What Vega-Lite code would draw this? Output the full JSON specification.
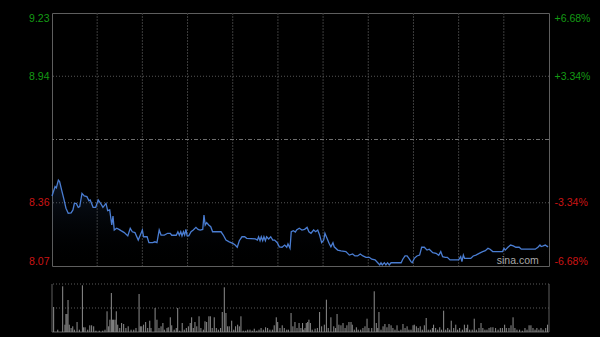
{
  "$schema": "https://vega.github.io/schema/vega-lite/v6.json",
  "background": "#000000",
  "padding": {"left": 0, "top": 12, "right": 0, "bottom": 4},
  "spacing": 14,
  "datasets": {
    "price": [
      {"t":0,"p":8.391},{"t":1.5,"p":8.434},{"t":2.1,"p":8.428},{"t":3.1,"p":8.464},{"t":3.7,"p":8.457},{"t":4.7,"p":8.418},{"t":5.7,"p":8.380},{"t":6.8,"p":8.335},{"t":7.9,"p":8.312},{"t":9.3,"p":8.314},
      {"t":10.2,"p":8.327},{"t":10.9,"p":8.357},{"t":11.8,"p":8.357},{"t":12.8,"p":8.339},{"t":13.5,"p":8.342},{"t":14.6,"p":8.403},{"t":15.7,"p":8.391},{"t":17.0,"p":8.388},{"t":18.0,"p":8.369},{"t":18.6,"p":8.373},
      {"t":20.0,"p":8.339},{"t":21.3,"p":8.339},{"t":22.5,"p":8.373},{"t":23.9,"p":8.354},{"t":24.8,"p":8.339},{"t":26.3,"p":8.357},{"t":27.1,"p":8.324},{"t":28.1,"p":8.327},{"t":29.1,"p":8.258},{"t":29.7,"p":8.299},
      {"t":30.3,"p":8.235},{"t":31.5,"p":8.243},{"t":32.6,"p":8.238},{"t":33.6,"p":8.232},{"t":35.2,"p":8.223},{"t":36.9,"p":8.208},{"t":38.1,"p":8.243},{"t":39.1,"p":8.227},{"t":40.4,"p":8.223},{"t":42.0,"p":8.189},
      {"t":43.0,"p":8.212},{"t":44.0,"p":8.235},{"t":44.6,"p":8.204},{"t":46.3,"p":8.204},{"t":47.2,"p":8.177},{"t":49.0,"p":8.177},{"t":50.1,"p":8.181},{"t":51.1,"p":8.177},{"t":52.2,"p":8.235},{"t":53.1,"p":8.212},
      {"t":54.7,"p":8.212},{"t":56.3,"p":8.220},{"t":57.6,"p":8.220},{"t":58.3,"p":8.211},{"t":60.5,"p":8.211},{"t":61.3,"p":8.227},{"t":62.0,"p":8.211},{"t":62.7,"p":8.227},{"t":63.3,"p":8.208},{"t":64.0,"p":8.227},
      {"t":64.6,"p":8.212},{"t":65.2,"p":8.238},{"t":65.8,"p":8.208},{"t":66.6,"p":8.208},{"t":67.7,"p":8.227},{"t":68.8,"p":8.235},{"t":70.1,"p":8.247},{"t":71.1,"p":8.238},{"t":72.1,"p":8.235},{"t":73.4,"p":8.238},
      {"t":74.0,"p":8.304},{"t":74.6,"p":8.258},{"t":75.3,"p":8.269},{"t":76.3,"p":8.258},{"t":77.3,"p":8.250},{"t":78.2,"p":8.227},{"t":82.3,"p":8.227},{"t":83.4,"p":8.212},{"t":84.7,"p":8.189},{"t":86.3,"p":8.181},
      {"t":88.0,"p":8.174},{"t":89.2,"p":8.166},{"t":90.2,"p":8.156},{"t":91.2,"p":8.186},{"t":92.5,"p":8.204},{"t":93.8,"p":8.204},{"t":94.8,"p":8.197},{"t":99.0,"p":8.194},{"t":100.0,"p":8.189},{"t":100.6,"p":8.204},
      {"t":101.3,"p":8.186},{"t":101.9,"p":8.204},{"t":102.6,"p":8.186},{"t":103.2,"p":8.204},{"t":103.9,"p":8.186},{"t":104.5,"p":8.204},{"t":105.5,"p":8.194},{"t":106.5,"p":8.204},{"t":107.5,"p":8.189},{"t":108.4,"p":8.189},
      {"t":109.7,"p":8.177},{"t":110.7,"p":8.158},{"t":112.0,"p":8.156},{"t":113.3,"p":8.166},{"t":114.3,"p":8.156},{"t":114.9,"p":8.171},{"t":115.9,"p":8.151},{"t":116.5,"p":8.227},{"t":117.5,"p":8.232},{"t":118.5,"p":8.226},
      {"t":119.1,"p":8.235},{"t":120.4,"p":8.243},{"t":121.7,"p":8.235},{"t":123.0,"p":8.238},{"t":124.2,"p":8.247},{"t":125.1,"p":8.227},{"t":126.1,"p":8.220},{"t":127.4,"p":8.235},{"t":128.4,"p":8.227},{"t":129.4,"p":8.235},
      {"t":130.3,"p":8.212},{"t":131.3,"p":8.177},{"t":132.3,"p":8.189},{"t":132.9,"p":8.220},{"t":133.9,"p":8.197},{"t":134.9,"p":8.174},{"t":135.8,"p":8.158},{"t":136.8,"p":8.177},{"t":137.4,"p":8.158},{"t":139.1,"p":8.143},
      {"t":140.7,"p":8.139},{"t":143.1,"p":8.136},{"t":144.8,"p":8.120},{"t":146.4,"p":8.125},{"t":147.5,"p":8.116},{"t":148.8,"p":8.116},{"t":150.1,"p":8.125},{"t":151.4,"p":8.116},{"t":152.9,"p":8.110},{"t":154.5,"p":8.110},
      {"t":155.7,"p":8.101},{"t":157.3,"p":8.098},{"t":158.6,"p":8.085},{"t":159.6,"p":8.075},{"t":160.2,"p":8.085},{"t":160.8,"p":8.075},{"t":161.8,"p":8.085},{"t":162.6,"p":8.075},{"t":163.4,"p":8.085},{"t":164.2,"p":8.075},
      {"t":165.1,"p":8.085},{"t":170.0,"p":8.085},{"t":170.8,"p":8.101},{"t":171.9,"p":8.116},{"t":172.9,"p":8.116},{"t":173.8,"p":8.105},{"t":174.8,"p":8.090},{"t":175.4,"p":8.085},{"t":176.4,"p":8.105},{"t":177.7,"p":8.116},
      {"t":179.0,"p":8.120},{"t":180.0,"p":8.156},{"t":181.3,"p":8.156},{"t":182.6,"p":8.143},{"t":183.7,"p":8.147},{"t":185.4,"p":8.131},{"t":187.0,"p":8.128},{"t":188.3,"p":8.119},{"t":189.3,"p":8.136},{"t":190.2,"p":8.113},
      {"t":191.5,"p":8.110},{"t":192.5,"p":8.110},{"t":193.8,"p":8.098},{"t":195.1,"p":8.098},{"t":198.0,"p":8.098},{"t":199.0,"p":8.113},{"t":199.6,"p":8.090},{"t":200.3,"p":8.120},{"t":200.9,"p":8.105},{"t":201.9,"p":8.105},
      {"t":203.9,"p":8.105},{"t":205.1,"p":8.116},{"t":206.4,"p":8.120},{"t":208.0,"p":8.128},{"t":209.7,"p":8.136},{"t":211.0,"p":8.140},{"t":212.3,"p":8.151},{"t":213.3,"p":8.147},{"t":214.6,"p":8.136},{"t":217.0,"p":8.136},
      {"t":219.4,"p":8.136},{"t":220.1,"p":8.151},{"t":220.7,"p":8.143},{"t":222.0,"p":8.156},{"t":223.3,"p":8.166},{"t":224.6,"p":8.162},{"t":225.9,"p":8.156},{"t":227.5,"p":8.156},{"t":228.5,"p":8.147},{"t":235.3,"p":8.147},
      {"t":236.6,"p":8.156},{"t":237.6,"p":8.166},{"t":238.2,"p":8.159},{"t":239.2,"p":8.162},{"t":240.2,"p":8.166},{"t":241.2,"p":8.159},{"t":241.5,"p":8.162}
    ],
    "vol": [
      {"t":0.8,"v":25000},{"t":2.8,"v":2300},{"t":5.2,"v":45700},{"t":6.3,"v":7300},{"t":6.8,"v":18000},{"t":7.3,"v":18000},{"t":7.8,"v":32000},{"t":8.4,"v":7300},{"t":9.3,"v":4000},{"t":10.1,"v":5700},
      {"t":10.9,"v":2300},{"t":12.2,"v":10000},{"t":13.3,"v":2300},{"t":14.8,"v":46700},{"t":15.4,"v":4700},{"t":16.1,"v":4700},{"t":17.4,"v":2300},{"t":18.4,"v":6700},{"t":19.3,"v":6700},{"t":20.3,"v":5700},
      {"t":21.4,"v":1300},{"t":23.0,"v":1300},{"t":24.7,"v":1300},{"t":25.8,"v":2300},{"t":26.8,"v":20700},{"t":27.6,"v":5700},{"t":28.2,"v":12300},{"t":28.9,"v":39000},{"t":29.4,"v":12300},{"t":30.0,"v":12300},
      {"t":30.7,"v":12300},{"t":31.3,"v":20700},{"t":32.0,"v":7300},{"t":33.0,"v":4000},{"t":33.9,"v":9000},{"t":34.9,"v":8000},{"t":36.0,"v":4000},{"t":37.1,"v":5700},{"t":38.5,"v":2300},{"t":39.8,"v":2300},
      {"t":40.9,"v":4000},{"t":42.4,"v":38000},{"t":43.0,"v":5700},{"t":43.7,"v":5700},{"t":44.6,"v":7300},{"t":45.6,"v":10000},{"t":46.6,"v":4000},{"t":47.6,"v":11300},{"t":48.2,"v":4000},{"t":50.2,"v":24000},
      {"t":51.1,"v":12300},{"t":52.1,"v":4000},{"t":53.1,"v":5700},{"t":54.0,"v":9000},{"t":54.7,"v":2300},{"t":56.0,"v":4000},{"t":56.6,"v":4700},{"t":57.6,"v":14700},{"t":58.3,"v":6700},{"t":59.5,"v":2300},
      {"t":60.5,"v":4000},{"t":61.2,"v":24000},{"t":62.2,"v":1300},{"t":63.4,"v":9000},{"t":64.4,"v":2300},{"t":65.4,"v":4000},{"t":66.4,"v":5700},{"t":67.3,"v":9000},{"t":68.0,"v":14700},{"t":68.8,"v":4000},
      {"t":69.6,"v":10000},{"t":70.5,"v":5700},{"t":71.6,"v":15700},{"t":72.5,"v":4000},{"t":73.7,"v":2300},{"t":74.5,"v":10700},{"t":75.3,"v":10000},{"t":76.4,"v":15700},{"t":77.1,"v":15700},{"t":78.0,"v":4000},
      {"t":79.0,"v":14700},{"t":80.0,"v":4000},{"t":81.0,"v":2300},{"t":82.1,"v":4000},{"t":82.9,"v":20000},{"t":83.9,"v":44700},{"t":84.7,"v":19000},{"t":85.5,"v":5700},{"t":86.3,"v":5700},{"t":87.5,"v":11300},
      {"t":88.5,"v":2300},{"t":89.4,"v":5700},{"t":90.4,"v":7300},{"t":91.2,"v":5700},{"t":92.0,"v":15700},{"t":93.1,"v":1300},{"t":94.3,"v":1300},{"t":95.3,"v":2300},{"t":96.4,"v":2300},{"t":97.5,"v":1300},
      {"t":98.5,"v":3300},{"t":99.7,"v":1300},{"t":100.8,"v":2300},{"t":101.8,"v":4000},{"t":102.9,"v":2300},{"t":104.0,"v":4700},{"t":105.0,"v":4000},{"t":106.1,"v":2300},{"t":107.3,"v":2300},{"t":108.2,"v":6700},
      {"t":109.2,"v":14700},{"t":109.9,"v":10000},{"t":111.0,"v":4000},{"t":112.1,"v":6700},{"t":113.1,"v":4000},{"t":114.3,"v":2300},{"t":115.1,"v":2300},{"t":116.4,"v":19000},{"t":117.3,"v":5700},{"t":118.3,"v":10000},
      {"t":119.3,"v":4000},{"t":120.3,"v":9000},{"t":121.2,"v":4000},{"t":122.0,"v":9000},{"t":122.6,"v":2300},{"t":123.2,"v":4000},{"t":123.8,"v":9000},{"t":124.5,"v":10000},{"t":125.1,"v":12300},{"t":125.8,"v":9000},
      {"t":126.7,"v":2300},{"t":128.1,"v":3300},{"t":129.2,"v":4000},{"t":130.3,"v":20000},{"t":131.3,"v":5700},{"t":132.6,"v":7300},{"t":133.6,"v":32300},{"t":134.5,"v":4000},{"t":135.8,"v":14700},{"t":137.2,"v":5700},
      {"t":138.1,"v":4000},{"t":138.8,"v":18000},{"t":139.7,"v":7300},{"t":140.7,"v":6700},{"t":141.7,"v":9000},{"t":142.7,"v":4000},{"t":143.6,"v":6700},{"t":144.6,"v":10000},{"t":145.6,"v":10000},{"t":146.2,"v":7300},
      {"t":147.2,"v":2300},{"t":148.2,"v":4700},{"t":149.1,"v":2300},{"t":150.3,"v":2300},{"t":151.4,"v":4000},{"t":152.4,"v":5700},{"t":153.4,"v":13300},{"t":154.3,"v":4000},{"t":155.7,"v":4000},{"t":156.9,"v":40700},
      {"t":157.9,"v":9000},{"t":158.6,"v":4000},{"t":159.2,"v":20000},{"t":160.2,"v":2300},{"t":161.2,"v":5700},{"t":162.1,"v":8000},{"t":163.1,"v":4700},{"t":164.1,"v":8000},{"t":165.1,"v":6700},{"t":166.0,"v":4000},
      {"t":167.0,"v":2300},{"t":168.0,"v":6700},{"t":168.9,"v":1300},{"t":169.9,"v":2300},{"t":170.9,"v":8000},{"t":171.9,"v":4000},{"t":172.9,"v":5700},{"t":173.8,"v":2300},{"t":174.8,"v":2300},{"t":175.8,"v":6700},
      {"t":176.4,"v":7300},{"t":177.4,"v":5700},{"t":178.3,"v":4000},{"t":179.3,"v":5700},{"t":180.3,"v":2300},{"t":181.3,"v":6700},{"t":182.2,"v":14000},{"t":183.2,"v":2300},{"t":184.2,"v":2300},{"t":185.2,"v":4000},
      {"t":185.8,"v":7300},{"t":186.8,"v":4000},{"t":187.8,"v":2300},{"t":188.8,"v":4700},{"t":189.7,"v":2300},{"t":190.7,"v":21300},{"t":191.7,"v":2300},{"t":192.7,"v":4000},{"t":193.6,"v":2300},{"t":194.4,"v":11300},
      {"t":195.6,"v":4000},{"t":196.6,"v":7300},{"t":197.5,"v":2300},{"t":198.5,"v":4000},{"t":199.8,"v":2300},{"t":200.8,"v":7300},{"t":201.7,"v":4000},{"t":202.4,"v":7300},{"t":203.4,"v":2300},{"t":204.6,"v":2300},
      {"t":205.6,"v":13300},{"t":206.6,"v":2300},{"t":207.9,"v":4000},{"t":208.9,"v":9000},{"t":209.8,"v":4000},{"t":210.8,"v":2300},{"t":211.8,"v":2300},{"t":212.8,"v":4000},{"t":213.7,"v":4700},{"t":214.7,"v":4700},
      {"t":216.0,"v":4000},{"t":217.2,"v":2300},{"t":218.3,"v":4000},{"t":219.3,"v":4000},{"t":220.4,"v":7300},{"t":221.2,"v":4000},{"t":222.5,"v":4000},{"t":223.5,"v":6700},{"t":224.5,"v":14700},{"t":225.4,"v":4000},
      {"t":226.4,"v":2300},{"t":227.7,"v":2300},{"t":229.0,"v":1300},{"t":230.3,"v":4000},{"t":231.3,"v":2300},{"t":232.3,"v":6700},{"t":233.2,"v":6700},{"t":234.2,"v":4000},{"t":235.2,"v":2300},{"t":236.1,"v":4000},
      {"t":237.1,"v":2300},{"t":238.1,"v":4000},{"t":239.1,"v":2300},{"t":240.4,"v":4000},{"t":241.3,"v":7300}
    ]
  },
  "vconcat": [
    {
      "width": 497,
      "height": 253,
      "view": {"stroke": "#5e5e5e", "strokeWidth": 1},
      "layer": [
        {
          "data": {"values": [{"g":22},{"g":44},{"g":66},{"g":88},{"g":110},{"g":132},{"g":154},{"g":176},{"g":198},{"g":220}]},
          "mark": {"type": "rule", "color": "#3c3c3c", "strokeDash": [2, 1]},
          "encoding": {"x": {"field": "g", "type": "quantitative", "scale": {"domain": [0, 242], "nice": false, "zero": false}, "axis": null}}
        },
        {
          "data": {"values": [{"h": 8.36}, {"h": 8.94}]},
          "mark": {"type": "rule", "color": "#555555", "strokeDash": [1, 2]},
          "encoding": {"y": {"field": "h", "type": "quantitative", "scale": {"domain": [8.07, 9.23], "nice": false, "zero": false}, "axis": null}}
        },
        {
          "data": {"values": [{"h": 8.65}]},
          "mark": {"type": "rule", "color": "#6e6e6e", "strokeDash": [4, 2, 1, 2]},
          "encoding": {"y": {"field": "h", "type": "quantitative", "scale": {"domain": [8.07, 9.23], "nice": false, "zero": false}, "axis": null}}
        },
        {
          "data": {"name": "price"},
          "mark": {
            "type": "area",
            "color": {
              "gradient": "linear", "x1": 0, "y1": 0, "x2": 0, "y2": 1,
              "stops": [
                {"offset": 0, "color": "rgba(74,125,210,0.16)"},
                {"offset": 1, "color": "rgba(0,0,0,0)"}
              ]
            }
          },
          "encoding": {
            "x": {"field": "t", "type": "quantitative", "scale": {"domain": [0, 242], "nice": false, "zero": false}, "axis": null},
            "y": {
              "field": "p", "type": "quantitative",
              "scale": {"domain": [8.07, 9.23], "nice": false, "zero": false},
              "axis": {
                "orient": "right", "title": null, "values": [8.07, 8.36, 8.94, 9.23],
                "labelExpr": "datum.value > 9 ? '+6.68%' : datum.value > 8.65 ? '+3.34%' : datum.value > 8.2 ? '-3.34%' : '-6.68%'",
                "labelFlush": true, "labelPadding": 5, "ticks": false, "domain": false, "grid": false,
                "minExtent": 52, "maxExtent": 52,
                "labelFontSize": 10.5, "labelFont": "Liberation Sans",
                "labelColor": {"condition": {"test": "datum.value > 8.65", "value": "#149a14"}, "value": "#cc1414"}
              }
            },
            "y2": {"datum": 8.07}
          }
        },
        {
          "data": {"name": "price"},
          "mark": {"type": "line", "color": "#4a7dd2", "strokeWidth": 1.3},
          "encoding": {
            "x": {"field": "t", "type": "quantitative", "scale": {"domain": [0, 242], "nice": false, "zero": false}, "axis": null},
            "y": {
              "field": "p", "type": "quantitative",
              "scale": {"domain": [8.07, 9.23], "nice": false, "zero": false},
              "axis": {
                "orient": "left", "title": null, "values": [8.07, 8.36, 8.94, 9.23], "format": ".2f",
                "labelFlush": true, "labelPadding": 3, "ticks": false, "domain": false, "grid": false,
                "minExtent": 51, "maxExtent": 51,
                "labelFontSize": 10.5, "labelFont": "Liberation Sans",
                "labelColor": {"condition": {"test": "datum.value > 8.65", "value": "#149a14"}, "value": "#cc1414"}
              }
            }
          }
        },
        {
          "data": {"values": [{"label": "sina.com"}]},
          "mark": {"type": "text", "align": "right", "baseline": "middle", "color": "#a8a8a8", "fontSize": 10.5, "font": "Liberation Sans"},
          "encoding": {
            "text": {"field": "label"},
            "x": {"datum": 237, "type": "quantitative", "scale": {"domain": [0, 242], "nice": false, "zero": false}},
            "y": {"datum": 8.093, "type": "quantitative", "scale": {"domain": [8.07, 9.23], "nice": false, "zero": false}, "axis": null}
          }
        }
      ],
      "resolve": {"axis": {"y": "independent"}}
    },
    {
      "width": 497,
      "height": 48,
      "view": {"stroke": null},
      "layer": [
        {
          "data": {"values": [{"h": 24000}, {"h": 48000}]},
          "mark": {"type": "rule", "color": "#5a5a5a", "strokeDash": [1, 2]},
          "encoding": {"y": {"field": "h", "type": "quantitative", "scale": {"domain": [0, 48000], "nice": false}, "axis": null}}
        },
        {
          "data": {"values": [{"h": 0}]},
          "mark": {"type": "rule", "color": "#5e5e5e"},
          "encoding": {"y": {"field": "h", "type": "quantitative", "scale": {"domain": [0, 48000], "nice": false}, "axis": null}}
        },
        {
          "data": {"values": [{"g": 0}, {"g": 242}]},
          "mark": {"type": "rule", "color": "#5e5e5e"},
          "encoding": {"x": {"field": "g", "type": "quantitative", "scale": {"domain": [0, 242], "nice": false, "zero": false}, "axis": null}}
        },
        {
          "data": {"name": "vol"},
          "mark": {"type": "rule", "color": "#8e8e8e", "strokeWidth": 1},
          "encoding": {
            "x": {"field": "t", "type": "quantitative", "scale": {"domain": [0, 242], "nice": false, "zero": false}, "axis": null},
            "y": {"field": "v", "type": "quantitative", "scale": {"domain": [0, 48000], "nice": false}, "axis": null},
            "y2": {"datum": 0}
          }
        }
      ]
    }
  ],
  "config": {
    "font": "Liberation Sans",
    "axis": {"labelFont": "Liberation Sans"}
  }
}
